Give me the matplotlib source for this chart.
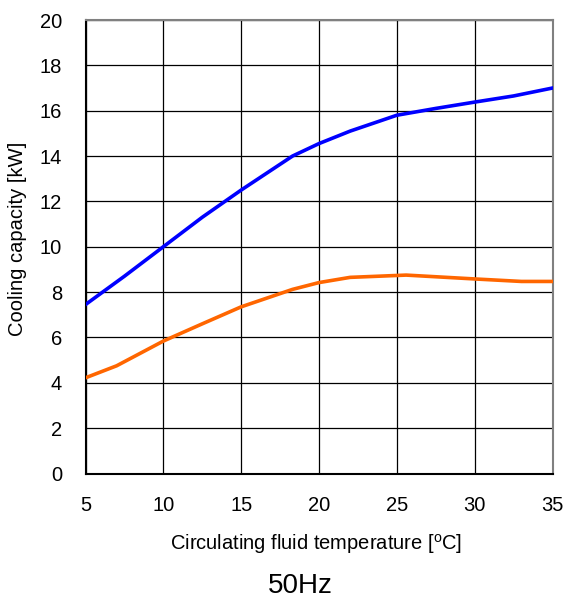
import matplotlib
matplotlib.use("Agg")
import matplotlib.pyplot as plt

plt.rcParams['font.family'] = ['Liberation Sans', 'DejaVu Sans']

blue_x = [5, 7.5, 10, 12.5, 15, 18.3, 20, 22, 25, 27.5, 30, 32.5, 35]
blue_y = [7.45, 8.7, 10.0, 11.3, 12.5, 14.0, 14.55, 15.1, 15.8, 16.1, 16.38, 16.65, 17.0]

orange_x = [5, 7, 10, 12.5, 15, 16.5, 18.3, 20, 22, 25.6, 30, 33, 35]
orange_y = [4.22, 4.75, 5.84, 6.6, 7.35, 7.7, 8.12, 8.42, 8.65, 8.75, 8.58, 8.47, 8.47]

x_ticks = [5, 10, 15, 20, 25, 30, 35]
y_ticks = [0, 2, 4, 6, 8, 10, 12, 14, 16, 18, 20]

W, H = 566, 602
fig = plt.figure(figsize=(W/100, H/100), dpi=100)
ax = fig.add_axes([85.5/W, 1 - 473.5/H, (552.5-85.5)/W, (473.5-20)/H])

ax.plot(blue_x, blue_y, color='#0000ff', lw=2.6, solid_joinstyle='round', zorder=3)
ax.plot(orange_x, orange_y, color='#ff6600', lw=2.6, solid_joinstyle='round', zorder=3)

ax.set_xlim(5, 35)
ax.set_ylim(0, 20)
ax.set_xticks(x_ticks)
ax.set_yticks(y_ticks)
ax.grid(True, color='#000000', lw=0.9)
ax.set_axisbelow(True)
ax.tick_params(length=0, labelsize=14.5, colors='#000000')
ax.tick_params(axis='y', pad=17)
ax.tick_params(axis='x', pad=16)

for s in ['left', 'bottom']:
    ax.spines[s].set_color('#000000')
    ax.spines[s].set_linewidth(1.5)
for s in ['top', 'right']:
    ax.spines[s].set_color('#808080')
    ax.spines[s].set_linewidth(1.5)

fig.text(316/W, 1 - 550/H, 'Circulating fluid temperature [$^{\\mathregular{o}}$C]',
         fontsize=14.5, ha='center', va='baseline')
fig.text(17.5/W, 1 - 238.5/H, 'Cooling capacity [kW]', fontsize=14.5,
         rotation=90, ha='center', va='center')
fig.text(300/W, 1 - 586/H, '50Hz', fontsize=20, ha='center', va='center')

fig.savefig('out.png', dpi=100)
